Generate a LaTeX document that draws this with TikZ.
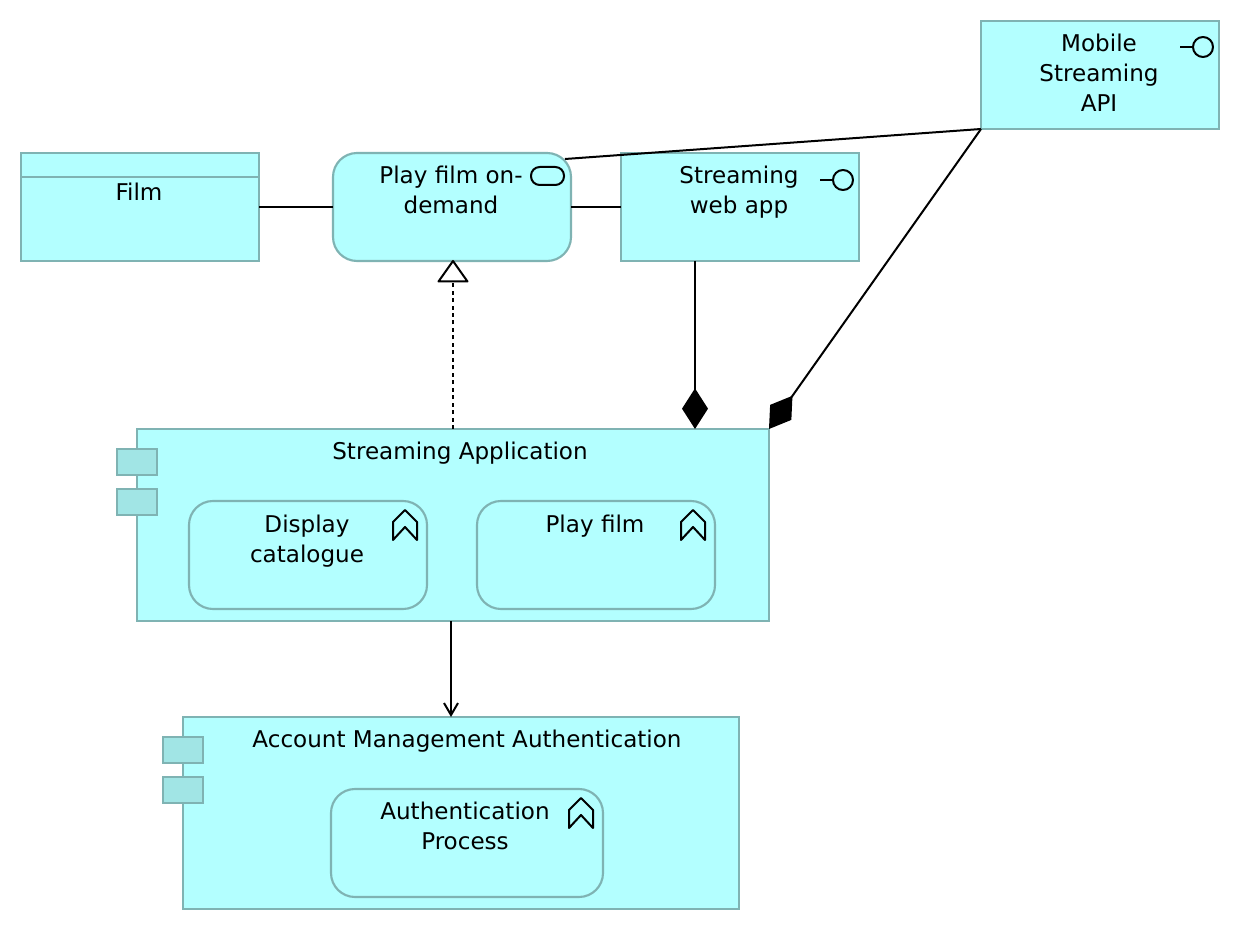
\documentclass[tikz,border=0pt]{standalone}
\usepackage{fontspec}
\setmainfont{DejaVu Sans}
\usetikzlibrary{arrows.meta}
\definecolor{boxfill}{HTML}{B3FFFF}
\definecolor{boxline}{HTML}{7FB3B3}
\definecolor{tabfill}{HTML}{A1E5E5}
\tikzset{
  base/.style={draw=boxline,fill=boxfill,line width=1.6pt,inner sep=0pt,outer sep=0pt},
  small/.style={base,minimum width=178.5pt,minimum height=81pt},
  smallround/.style={small,rounded corners=18pt},
  tab/.style={base,fill=tabfill,minimum width=30pt,minimum height=19.5pt},
  txt/.style={inner sep=0pt,outer sep=0pt,align=center,anchor=north,font=\fontsize{17.3}{22.5}\selectfont},
  conn/.style={draw=black,line width=1.5pt},
  icon/.style={draw=black,line width=1.5pt,line join=round},
  compo/.style={conn,-{Diamond[length=30.5pt,width=19.5pt,fill=black]}},
}
\newcommand{\ifaceicon}[2]{%
  \draw[icon,fill=none] (#1,#2) circle[radius=7.5pt];
  \draw[icon] (#1-10,#2) -- ++(-13,0);}
\newcommand{\procicon}[2]{%
  \draw[icon] (#1,#2) -- ++(12,12) -- ++(0,18) -- ++(-12,-13) -- ++(-12,13) -- ++(0,-18) -- cycle;}
\begin{document}
\begin{tikzpicture}[x=0.75pt,y=-0.75pt]
\useasboundingbox (0,0) rectangle (1240,930);
% boxes
\node[small] (film) at (140,207) {};
\draw[boxline,line width=1.6pt] (film.north west) ++(0,24) -- ++(238,0);
\node[smallround] (play) at (452,207) {};
\node[small] (web) at (740,207) {};
\node[small] (mobile) at (1100,75) {};
\node[base,minimum width=474pt,minimum height=144pt] (app) at (453,525) {};
\node[tab] (apptab1) at (137,462) {};
\node[tab] (apptab2) at (137,502) {};
\node[smallround] (display) at (308,555) {};
\node[smallround] (playfilm) at (596,555) {};
\node[base,minimum width=417pt,minimum height=144pt] (auth) at (461,813) {};
\node[tab] (authtab1) at (183,750) {};
\node[tab] (authtab2) at (183,790) {};
\node[smallround,minimum width=204pt] (authproc) at (467,843) {};
% texts
\node[txt] (tfilm) at (139,183) {Film};
\node[txt] (tplay) at (451,166) {Play film on-\\demand};
\node[txt] (tweb) at (739,166) {Streaming\\web app};
\node[txt] (tmobile) at (1099,34) {Mobile\\Streaming\\API};
\node[txt] (tapp) at (460,442) {Streaming Application};
\node[txt] (tdisplay) at (307,515) {Display\\catalogue};
\node[txt] (tplayfilm) at (595,515) {Play film};
\node[txt] (tauth) at (467,730) {Account Management Authentication};
\node[txt] (tauthproc) at (465,802) {Authentication\\Process};
% icons
\ifaceicon{1203}{47}
\ifaceicon{843}{180}
\draw[icon,rounded corners=6.5pt] (531,167) rectangle (564,185);
\procicon{405}{510}
\procicon{693}{510}
\procicon{581}{798}
% connectors
\draw[conn] (film.east) -- (play.west);
\draw[conn] (play.east) -- (web.west);
\draw[conn] (mobile.south west) -- ([xshift=-4.5pt,yshift=-4.5pt]play.north east);
\draw[compo] ([xshift=-33.75pt]web.south) -- ([xshift=181.5pt]app.north);
\draw[compo] (mobile.south west) -- (app.north east);
\draw[conn,line width=1.2pt,dash pattern=on 3pt off 2.6pt] (app.north) -- ([xshift=.75pt,yshift=-15pt]play.south);
\draw[conn,-{Straight Barb[length=9pt,width=10.5pt]}] ([xshift=-1.5pt]app.south) -- ([xshift=-7.5pt]auth.north);
\draw[icon,fill=white] ([xshift=.75pt]play.south) -- ++(14.5,20.5) -- ++(-29,0) -- cycle;
\end{tikzpicture}
\end{document}
